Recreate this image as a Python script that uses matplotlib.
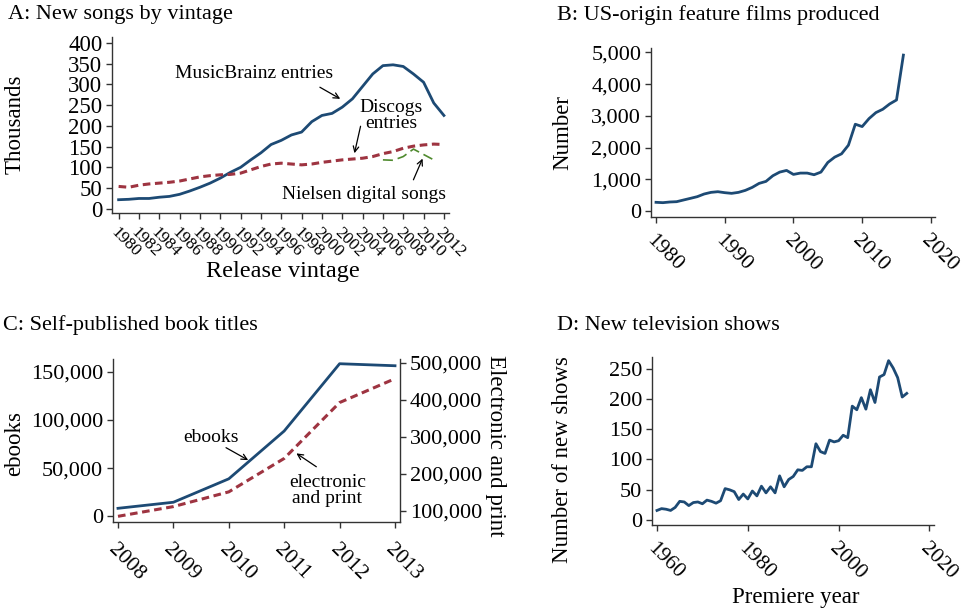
import matplotlib
matplotlib.use("Agg")
import matplotlib.pyplot as plt
import matplotlib.ticker as mtick

plt.rcParams['font.family'] = ['Liberation Serif', 'DejaVu Serif']

# A: new songs by vintage (thousands)
years_a = list(range(1980, 2013))
musicbrainz = [22, 23, 25, 25, 28, 30, 35, 43, 52, 62, 74, 88, 100, 118, 135, 155,
               165, 178, 185, 210, 225, 230, 245, 265, 295, 325, 345, 347, 343, 325,
               305, 255, 225]
discogs = [54, 52, 57, 60, 62, 64, 67, 72, 77, 80, 82, 83, 86, 94, 102, 108,
           110, 108, 106, 108, 112, 115, 118, 120, 122, 126, 133, 138, 146, 151,
           154, 156, 155]
years_nielsen = [2006, 2007, 2008, 2009, 2010, 2011]
nielsen = [118, 117, 126, 144, 131, 118]

# B: US-origin feature films
years_b = list(range(1980, 2017))
films = [273, 262, 283, 293, 346, 398, 451, 535, 587, 608, 577, 556, 587, 650,
         744, 870, 933, 1111, 1226, 1279, 1153, 1195, 1195, 1143, 1226, 1530, 1698,
         1803, 2075, 2736, 2662, 2914, 3103, 3208, 3375, 3501, 4916]

# C: self-published book titles
years_c = [2008, 2009, 2010, 2011, 2012, 2013]
ebooks = [8300, 14600, 38900, 88500, 158300, 156200]
elec_print = [85500, 111800, 151600, 242000, 393000, 457500]

# D: new television shows
years_d = list(range(1960, 2016))
shows = [16, 19, 18, 16, 21, 31, 30, 24, 29, 30, 27, 33, 31, 28, 32, 52, 50, 47,
         34, 43, 35, 48, 40, 56, 45, 55, 45, 73, 55, 67, 72, 83, 82, 88, 88, 126,
         113, 110, 132, 129, 131, 140, 136, 188, 182, 202, 183, 215, 194, 236, 240,
         263, 251, 235, 203, 209]

blue = "#1d4a74"
red = "#9e3441"
green = "#4f8a2e"
W, H = 965, 610


def box(l, t, r, b):
    return [l / W, 1 - b / H, (r - l) / W, (b - t) / H]


def style(ax, right=False):
    for s in ["top", "right"]:
        ax.spines[s].set_visible(False)
    for s in ["left", "bottom", "right"]:
        ax.spines[s].set_color("#333333")
        ax.spines[s].set_linewidth(1.0)
    if right:
        ax.spines["right"].set_visible(True)
    ax.tick_params(direction="out", length=4, width=1, color="#333333",
                   labelsize=16, pad=3)


def rot_xticks(ax, size, pad):
    ax.tick_params(axis="x", pad=pad)
    for lab in ax.get_xticklabels():
        lab.set_rotation(-45)
        lab.set_ha("left")
        lab.set_va("top")
        lab.set_rotation_mode("anchor")
        lab.set_fontsize(size)


fig = plt.figure(figsize=(9.65, 6.1), dpi=100)

# ---- A ----
ax = fig.add_axes(box(112, 37, 449, 213))
ax.plot(years_a, musicbrainz, color=blue, lw=2.0)
ax.plot(years_a, discogs, color=red, lw=2.2, ls=(0, (2.5, 1.5)))
ax.plot(years_nielsen, nielsen, color=green, lw=1.2, ls=(0, (6, 3)))
ax.set_xlim(1979.35, 2012.5)
ax.set_ylim(-10, 414)
ax.set_xticks(range(1980, 2013, 2))
ax.set_yticks(range(0, 401, 50))
style(ax)
ax.tick_params(axis="y", labelsize=16.5)
rot_xticks(ax, 12.5, 4)
ap = dict(arrowstyle="->", lw=0.9, color="black", shrinkA=0, shrinkB=0)
ax.annotate("MusicBrainz entries", xy=(2001.8, 265), xytext=(1993.3, 326),
            fontsize=14, ha="center", va="center")
ax.annotate("", xy=(2001.8, 265), xytext=(1999.8, 293), arrowprops=ap)
ax.annotate("Discogs\nentries", xy=(2003.2, 134), xytext=(2006.8, 225),
            fontsize=14, ha="center", va="center", linespacing=0.9)
ax.annotate("", xy=(2003.2, 134), xytext=(2003.8, 199), arrowprops=ap)
ax.annotate("Nielsen digital songs", xy=(2009.9, 121), xytext=(2004.1, 35),
            fontsize=14, ha="center", va="center")
ax.annotate("", xy=(2009.9, 121), xytext=(2009.0, 70), arrowprops=ap)

fig.text(8 / W, 1 - 15 / H, "A: New songs by vintage", fontsize=16,
         ha="left", va="center")
fig.text(15 / W, 1 - 124 / H, "Thousands", fontsize=16.5, rotation=90,
         ha="center", va="center")
fig.text(283 / W, 1 - 272 / H, "Release vintage", fontsize=17.5,
         ha="center", va="center")

# ---- B ----
ax = fig.add_axes(box(651, 48, 935, 217))
ax.plot(years_b, films, color=blue, lw=2.0)
ax.set_xlim(1979.27, 2020.6)
ax.set_ylim(-190, 5140)
ax.set_xticks(range(1980, 2021, 10))
ax.set_yticks(range(0, 5001, 1000))
ax.yaxis.set_major_formatter(mtick.StrMethodFormatter("{x:,.0f}"))
style(ax)
rot_xticks(ax, 15.5, 6)
fig.text(557 / W, 1 - 15 / H, "B: US-origin feature films produced",
         fontsize=16, ha="left", va="center")
fig.text(563 / W, 1 - 132 / H, "Number", fontsize=16.5, rotation=90,
         ha="center", va="center")

# ---- C ----
ax = fig.add_axes(box(113, 359, 400, 522))
ax.plot(years_c, ebooks, color=blue, lw=2.0)
ax.set_xlim(2007.91, 2013.09)
ax.set_ylim(-5900, 163200)
ax.set_xticks(years_c)
ax.set_yticks([0, 50000, 100000, 150000])
ax.yaxis.set_major_formatter(mtick.StrMethodFormatter("{x:,.0f}"))
style(ax)
rot_xticks(ax, 15.5, 9)
ax2 = ax.twinx()
ax2.plot(years_c, elec_print, color=red, lw=2.2, ls=(0, (2.5, 1.5)))
ax2.set_ylim(70150, 510700)
ax2.set_yticks([100000, 200000, 300000, 400000, 500000])
ax2.yaxis.set_major_formatter(mtick.StrMethodFormatter("{x:,.0f}"))
style(ax2, right=True)
ax2.spines["left"].set_visible(False)
ax2.spines["bottom"].set_visible(False)
ax.annotate("ebooks", xy=(2010.35, 58300), xytext=(2009.68, 81900),
            fontsize=14, ha="center", va="center")
ax.annotate("", xy=(2010.35, 58300), xytext=(2009.95, 71200), arrowprops=ap)
ax.annotate("electronic\nand print", xy=(2011.22, 65300), xytext=(2011.78, 27100),
            fontsize=14, ha="center", va="center", linespacing=0.95)
ax.annotate("", xy=(2011.22, 65300), xytext=(2011.58, 51400), arrowprops=ap)

fig.text(3 / W, 1 - 325 / H, "C: Self-published book titles", fontsize=16,
         ha="left", va="center")
fig.text(15 / W, 1 - 444 / H, "ebooks", fontsize=16.5, rotation=90,
         ha="center", va="center")
fig.text(495 / W, 1 - 446 / H, "Electronic and print", fontsize=16.5,
         rotation=-90, ha="center", va="center")

# ---- D ----
ax = fig.add_axes(box(652, 357, 934, 525))
ax.plot(years_d, shows, color=blue, lw=2.0)
ax.set_xlim(1958.9, 2021.0)
ax.set_ylim(-8, 269)
ax.set_xticks(range(1960, 2021, 20))
ax.set_yticks(range(0, 251, 50))
style(ax)
rot_xticks(ax, 15.5, 6)
fig.text(557 / W, 1 - 326 / H, "D: New television shows", fontsize=16,
         ha="left", va="center")
fig.text(563 / W, 1 - 460 / H, "Number of new shows", fontsize=16.5,
         rotation=90, ha="center", va="center")
fig.text(796 / W, 1 - 598 / H, "Premiere year", fontsize=16.5,
         ha="center", va="center")

fig.savefig("out.png", dpi=100)
